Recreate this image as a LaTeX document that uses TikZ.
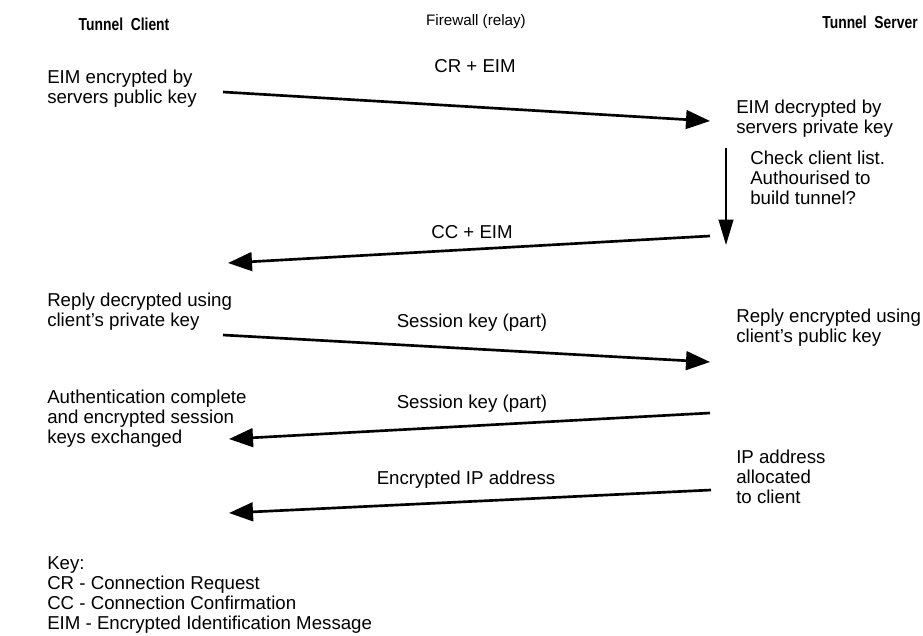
\documentclass[tikz,border=0pt]{standalone}
\usepackage{fontspec}
\setmainfont{Liberation Sans}
\newfontfamily\headfont[FakeStretch=0.8]{Liberation Sans}
\usetikzlibrary{arrows.meta}
\begin{document}
\begin{tikzpicture}[x=0.75pt,y=-0.75pt,
  txt/.style={font=\fontsize{14}{15}\selectfont, align=left, anchor=north west, inner sep=0pt},
  head/.style={font=\headfont\fontsize{13}{14}\selectfont\bfseries, inner sep=0pt},
  msg/.style={font=\fontsize{14}{15}\selectfont, inner sep=0pt},
  flow/.style={line width=2pt, -{Triangle[length=18pt,width=14pt]}},
  vflow/.style={line width=1.5pt, -{Triangle[length=19pt,width=11pt]}}]
\useasboundingbox (0,0) rectangle (923,635);
% headings
\node[head] (hc) at (124,24) {Tunnel~~Client};
\node[msg, font=\fontsize{11.4}{13}\selectfont] (hf) at (476,22) {Firewall (relay)};
\node[head] (hs) at (870,22) {Tunnel~~Server};
% client side texts
\node[txt] (c1) at (47,70) {EIM encrypted by\\servers public key};
\node[txt] (c2) at (47,293) {Reply decrypted using\\client's private key};
\node[txt] (c3) at (47,390) {Authentication complete\\and encrypted session\\keys exchanged};
% server side texts
\node[txt] (s1) at (736,100) {EIM decrypted by\\servers private key};
\node[txt] (s2) at (750,151) {Check client list.\\Authourised to\\build tunnel?};
\node[txt] (s3) at (736,309) {Reply encrypted using\\client's public key};
\node[txt] (s4) at (736,450) {IP address\\allocated\\to client};
% key
\node[txt] (key) at (47,556) {Key:\\CR - Connection Request\\CC - Connection Confirmation\\EIM - Encrypted Identification Message};
% arrow end points
\coordinate (a1s) at (223,92);  \coordinate (a1e) at (710,121);
\coordinate (vs) at (726,148);  \coordinate (ve) at (726,245);
\coordinate (a2s) at (710,236); \coordinate (a2e) at (228,263);
\coordinate (a3s) at (223,335); \coordinate (a3e) at (710,362);
\coordinate (a4s) at (710,413); \coordinate (a4e) at (229,439);
\coordinate (a5s) at (711,490); \coordinate (a5e) at (229,513);
\draw[flow] (a1s) -- (a1e);
\draw[vflow] (vs) -- (ve);
\draw[flow] (a2s) -- (a2e);
\draw[flow] (a3s) -- (a3e);
\draw[flow] (a4s) -- (a4e);
\draw[flow] (a5s) -- (a5e);
% message labels
\node[msg] (m1) at (475,66) {CR + EIM};
\node[msg] (m2) at (472,232) {CC + EIM};
\node[msg] (m3) at (472,323) {Session key (part)};
\node[msg] (m4) at (472,404) {Session key (part)};
\node[msg] (m5) at (466,480) {Encrypted IP address};
\end{tikzpicture}
\end{document}
